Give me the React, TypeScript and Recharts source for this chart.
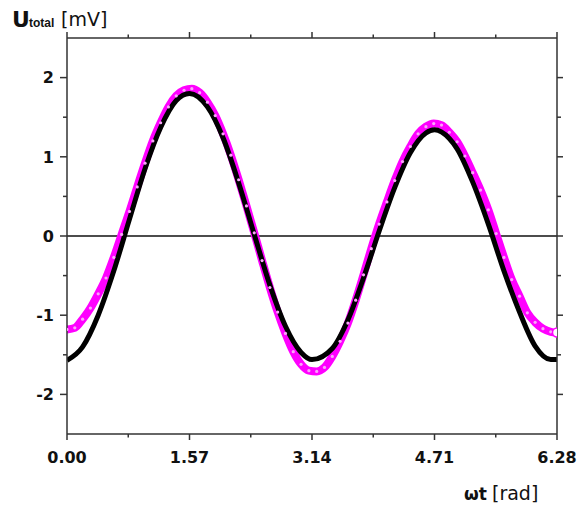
/* Total voltage vs phase: measured points against the fitted curve. */

import { Line, LineChart, ReferenceLine, XAxis, YAxis } from "recharts";

const AXIS = "#333";
const FONT = "'DejaVu Sans', sans-serif";

const xTicks = [0, 0.785, 1.57, 2.355, 3.14, 3.925, 4.71, 5.495, 6.28];
const xTickLabels = ["0.00", "1.57", "3.14", "4.71", "6.28"];
const yTicks = [-2, -1.5, -1, -0.5, 0, 0.5, 1, 1.5, 2];

// fitted curve (black)
const fitX = [
  0, 0.2, 0.4, 0.6, 0.8, 1.0, 1.2, 1.4, 1.57, 1.8, 2.0, 2.2, 2.4, 2.6, 2.8, 3.0, 3.14, 3.4,
  3.6, 3.8, 4.0, 4.2, 4.4, 4.6, 4.71, 4.9, 5.0, 5.2, 5.4, 5.6, 5.8, 6.0, 6.2, 6.28,
];
const fitY = [
  -1.57, -1.4, -1.0, -0.44, 0.21, 0.85, 1.37, 1.71, 1.8, 1.63, 1.24, 0.67, 0.02, -0.62, -1.14,
  -1.47, -1.56, -1.42, -1.06, -0.53, 0.06, 0.61, 1.05, 1.3, 1.34, 1.23, 1.1, 0.68, 0.15, -0.44,
  -0.96, -1.39, -1.56, -1.56,
];

// measured points (magenta)
const measX = [
  0, 0.1, 0.2, 0.3, 0.4, 0.5, 0.6, 0.7, 0.8, 0.9, 1.0, 1.1, 1.2, 1.3, 1.4, 1.5, 1.6, 1.7, 1.8,
  1.9, 2.0, 2.1, 2.2, 2.3, 2.4, 2.5, 2.6, 2.7, 2.8, 2.9, 3.0, 3.1, 3.2, 3.3, 3.4, 3.5, 3.6, 3.7,
  3.8, 3.9, 4.0, 4.1, 4.2, 4.3, 4.4, 4.5, 4.6, 4.7, 4.8, 4.9, 5.0, 5.1, 5.2, 5.3, 5.4, 5.5, 5.6,
  5.7, 5.8, 5.9, 6.0, 6.1, 6.2, 6.28,
];
const measY = [
  -1.18, -1.16, -1.05, -0.91, -0.73, -0.53, -0.27, 0.02, 0.31, 0.62, 0.92, 1.2, 1.43, 1.63, 1.77,
  1.84, 1.86, 1.81, 1.69, 1.52, 1.29, 1.02, 0.71, 0.38, 0.04, -0.31, -0.65, -0.96, -1.23, -1.46,
  -1.62, -1.7, -1.71, -1.66, -1.52, -1.33, -1.1, -0.81, -0.49, -0.16, 0.15, 0.43, 0.7, 0.94, 1.13,
  1.29, 1.38, 1.42, 1.4, 1.31, 1.19, 1.01, 0.8, 0.58, 0.33, 0.03, -0.27, -0.55, -0.76, -0.97,
  -1.09, -1.17, -1.21, -1.22,
];

const fitData = fitX.map((x, i) => ({ x, y: fitY[i] }));
const measData = measX.map((x, i) => ({ x, y: measY[i] }));

const isMajorX = (v: number) => Math.abs(v / 1.57 - Math.round(v / 1.57)) < 0.01;
const isMajorY = (v: number) => Number.isInteger(v);

function BottomTick({ x, y, payload }: any) {
  const major = isMajorX(payload.value);
  return (
    <g>
      <line x1={x} x2={x} y1={y} y2={y + (major ? 6 : 3.5)} stroke={AXIS} strokeWidth={1.5} />
      {major && (
        <text x={x} y={y + 29} textAnchor="middle" fontFamily={FONT} fontWeight="bold" fontSize={16} fill="#111">
          {xTickLabels[Math.round(payload.value / 1.57)]}
        </text>
      )}
    </g>
  );
}

function TopTick({ x, y, payload }: any) {
  const major = isMajorX(payload.value);
  return <line x1={x} x2={x} y1={y} y2={y - (major ? 6 : 3.5)} stroke={AXIS} strokeWidth={1.5} />;
}

function LeftTick({ x, y, payload }: any) {
  const major = isMajorY(payload.value);
  return (
    <g>
      <line x1={x - (major ? 7 : 4)} x2={x} y1={y} y2={y} stroke={AXIS} strokeWidth={1.5} />
      {major && (
        <text x={x - 13} y={y} dy="0.36em" textAnchor="end" fontFamily={FONT} fontWeight="bold" fontSize={16} fill="#111">
          {payload.value}
        </text>
      )}
    </g>
  );
}

function RightTick({ x, y, payload }: any) {
  const major = isMajorY(payload.value);
  return <line x1={x} x2={x + (major ? 6 : 4)} y1={y} y2={y} stroke={AXIS} strokeWidth={1.5} />;
}

function MeasDot({ cx, cy, index }: any) {
  const last = index === measData.length - 1;
  if (last) {
    return <circle key={index} cx={cx} cy={cy} r={4.5} fill="#fff" stroke="#f0f" strokeWidth={1.5} />;
  }
  return <circle key={index} cx={cx} cy={cy} r={1.6} fill="#f9a6f9" stroke="none" />;
}

const yTitle = () => (
  <text fontFamily={FONT} fill="#111">
    <tspan x={12} y={27} fontWeight="bold" fontSize={22}>U</tspan>
    <tspan x={29} y={27} fontWeight="bold" fontSize={12} fontFamily="'Liberation Sans', sans-serif">total</tspan>
    <tspan x={61} y={25.5} fontSize={19}>[mV]</tspan>
  </text>
);

const xTitle = () => (
  <text fontFamily={FONT} fill="#111">
    <tspan x={464} y={500} fontWeight="bold" fontSize={17}>ωt</tspan>
    <tspan x={492} y={500} fontSize={19}>[rad]</tspan>
  </text>
);

export default function App() {
  return (
    <div style={{ position: "absolute", left: 0, top: 0, width: 577, height: 509, background: "#fff" }}>
      <LineChart width={577} height={509} margin={{ top: 37, right: 19, left: 0, bottom: 0 }}>
        <XAxis
          type="number"
          dataKey="x"
          domain={[0, 6.28]}
          ticks={xTicks}
          interval={0}
          allowDataOverflow
          height={75}
          tickSize={0}
          tickMargin={0}
          tickLine={false}
          tick={<BottomTick />}
          axisLine={{ stroke: AXIS, strokeWidth: 1.5 }}
          label={{ content: xTitle }}
        />
        <XAxis
          xAxisId="top"
          orientation="top"
          type="number"
          dataKey="x"
          domain={[0, 6.28]}
          ticks={xTicks}
          interval={0}
          allowDataOverflow
          height={1}
          tickSize={0}
          tickMargin={0}
          tickLine={false}
          tick={<TopTick />}
          axisLine={{ stroke: AXIS, strokeWidth: 1.5 }}
        />
        <YAxis
          type="number"
          domain={[-2.5, 2.5]}
          ticks={yTicks}
          interval={0}
          allowDataOverflow
          width={67}
          tickSize={0}
          tickMargin={0}
          tickLine={false}
          tick={<LeftTick />}
          axisLine={{ stroke: AXIS, strokeWidth: 1.5 }}
          label={{ content: yTitle }}
        />
        <YAxis
          yAxisId="right"
          orientation="right"
          type="number"
          domain={[-2.5, 2.5]}
          ticks={yTicks}
          interval={0}
          allowDataOverflow
          width={1}
          tickSize={0}
          tickMargin={0}
          tickLine={false}
          tick={<RightTick />}
          axisLine={{ stroke: AXIS, strokeWidth: 1.5 }}
        />
        <ReferenceLine y={0} stroke="#111" strokeWidth={1.5} />
        <Line
          data={measData}
          dataKey="y"
          xAxisId="top"
          type="monotone"
          stroke="#f0f"
          strokeWidth={8}
          dot={<MeasDot />}
          activeDot={false}
          isAnimationActive={false}
        />
        <Line
          data={fitData}
          dataKey="y"
          yAxisId="right"
          type="monotone"
          stroke="#000"
          strokeWidth={5}
          dot={false}
          activeDot={false}
          isAnimationActive={false}
        />
      </LineChart>
    </div>
  );
}
